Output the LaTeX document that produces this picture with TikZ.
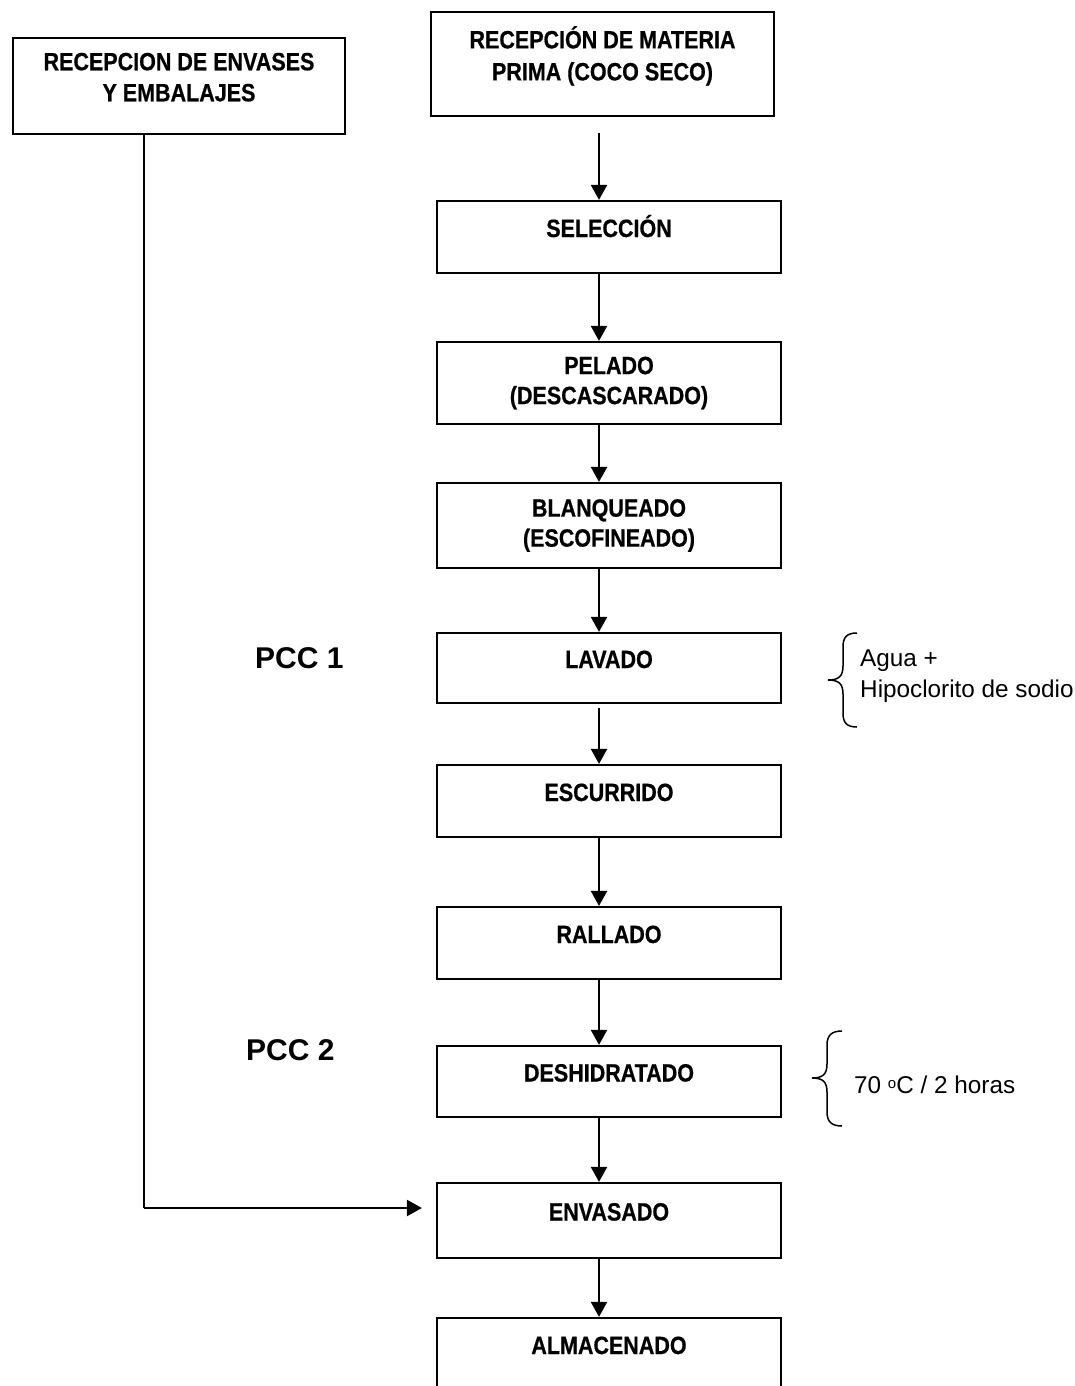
\documentclass[tikz,border=0pt]{standalone}
\usepackage{fontspec}
\setmainfont{Liberation Sans}
\newfontfamily\stepfont{Liberation Sans Bold}[FakeStretch=0.86,FakeBold=0.6]
\usetikzlibrary{arrows.meta,calc}

\begin{document}
\begin{tikzpicture}[x=1pt,y=-1pt,
  stepbox/.style={draw, line width=2.2pt, rectangle, inner sep=0pt,
    minimum width=344pt, font={\stepfont\fontsize{25}{30}\selectfont}},
  oneline/.style={text height=0pt, text depth=0pt},
  flow/.style={line width=2.2pt, -{Triangle[width=16pt,length=15pt]}},
  feed/.style={line width=1.3pt},
  brace/.style={line width=1.5pt},
  note/.style={inner sep=0pt, font={\fontsize{24.3}{28}\selectfont}},
  pcc/.style={inner sep=0pt, font={\bfseries\fontsize{30}{36}\selectfont}}
]
% canvas
\useasboundingbox (0,0) rectangle (1075,1386);
\clip (0,0) rectangle (1075,1386);
\fill[white] (0,0) rectangle (1075,1386);

% side input: packaging
\node[stepbox, oneline, minimum width=332pt, minimum height=96pt] (pack) at (179,86)
  {\begin{tabular}{@{}c@{}}RECEPCION DE ENVASES\\[1pt]Y EMBALAJES\end{tabular}};

% main process line
\node[stepbox, oneline, minimum width=343pt, minimum height=104pt] (raw) at (602.5,64)
  {\begin{tabular}{@{}c@{}}RECEPCIÓN DE MATERIA\\[2pt]PRIMA (COCO SECO)\end{tabular}};
\node[stepbox, oneline, minimum height=72pt] (sel) at (609,237) {SELECCIÓN};
\node[stepbox, align=center, minimum height=82pt] (pel) at (609,383) {PELADO\\(DESCASCARADO)};
\node[stepbox, align=center, minimum height=85pt] (bla) at (609,525.5) {BLANQUEADO\\(ESCOFINEADO)};
\node[stepbox, oneline, minimum height=70pt] (lav) at (609,668) {LAVADO};
\node[stepbox, oneline, minimum height=72pt] (esc) at (609,801) {ESCURRIDO};
\node[stepbox, oneline, minimum height=72pt] (ral) at (609,943) {RALLADO};
\node[stepbox, oneline, minimum height=71pt] (des) at (609,1081.5) {DESHIDRATADO};
\node[stepbox, oneline, minimum height=75pt] (env) at (609,1220.5) {ENVASADO};
\node[stepbox, oneline, minimum height=72pt] (alm) at (609,1354) {ALMACENADO};

% flow arrows
\coordinate (axis) at (599,0);
\draw[flow, shorten <=16pt] (raw.south -| axis) -- (sel.north -| axis);
\draw[flow] (sel.south -| axis) -- (pel.north -| axis);
\draw[flow] (pel.south -| axis) -- (bla.north -| axis);
\draw[flow] (bla.south -| axis) -- (lav.north -| axis);
\draw[flow, shorten <=4pt] (lav.south -| axis) -- (esc.north -| axis);
\draw[flow] (esc.south -| axis) -- (ral.north -| axis);
\draw[flow] (ral.south -| axis) -- (des.north -| axis);
\draw[flow] (des.south -| axis) -- (env.north -| axis);
\draw[flow] (env.south -| axis) -- (alm.north -| axis);

% packaging joins at ENVASADO
\coordinate (drop) at (144,1208);
\draw[feed] (pack.south -| drop) -- (drop);
\draw[flow, shorten >=14pt] (drop) -- (env.west |- drop);

% critical control points
\node[pcc, anchor=base west] (pcc1) at (255,668) {PCC 1};
\node[pcc, anchor=base west] (pcc2) at (246,1060) {PCC 2};

% washing conditions
\draw[brace] (857,633) .. controls (847,633) and (843,637) .. (843,647) -- (843,666)
  .. controls (843,676) and (839,680) .. (828,680)
  .. controls (839,680) and (843,684) .. (843,694) -- (843,713)
  .. controls (843,723) and (847,727) .. (857,727);
\node[note, anchor=base west] (agua) at (860,666) {Agua +};
\node[note, anchor=base west] (hipo) at (860,697) {Hipoclorito de sodio};

% drying conditions
\draw[brace] (842,1031) .. controls (832,1031) and (827,1035) .. (827,1045) -- (827,1064)
  .. controls (827,1074) and (823,1078) .. (812,1078)
  .. controls (823,1078) and (827,1082) .. (827,1092) -- (827,1112)
  .. controls (827,1122) and (832,1126) .. (842,1126);
\node[note, anchor=base west] (temp) at (854,1093) {70 \raisebox{5pt}{\fontsize{15}{15}\selectfont o}C / 2 horas};
\end{tikzpicture}
\end{document}
